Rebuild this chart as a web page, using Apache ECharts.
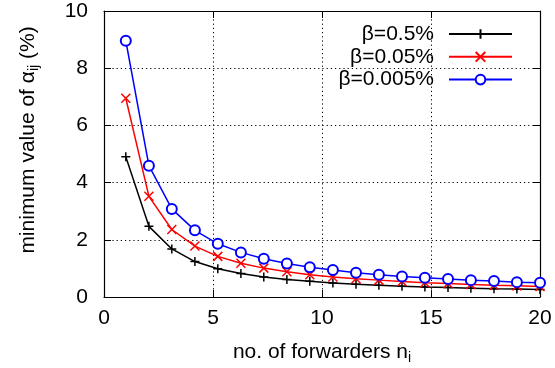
<!DOCTYPE html>
<html><head><meta charset="utf-8">
<script src="https://cdn.jsdelivr.net/npm/echarts@6/dist/echarts.min.js"></script>
<style>html,body{margin:0;padding:0;background:#fff}#c{width:555px;height:368px}</style>
</head><body><div id="c"></div>
<script>
var xs = [1, 2.06, 3.11, 4.17, 5.22, 6.28, 7.33, 8.39, 9.44, 10.5, 11.56, 12.61, 13.67, 14.72, 15.78, 16.83, 17.89, 18.94, 20];
var beta05 = [4.9, 2.47, 1.68, 1.24, 0.99, 0.82, 0.70, 0.61, 0.55, 0.49, 0.45, 0.41, 0.38, 0.35, 0.33, 0.31, 0.29, 0.28, 0.26];
var beta005 = [6.95, 3.52, 2.36, 1.78, 1.42, 1.18, 1.01, 0.88, 0.78, 0.70, 0.64, 0.59, 0.54, 0.50, 0.47, 0.44, 0.41, 0.39, 0.37];
var beta0005 = [8.96, 4.59, 3.08, 2.33, 1.86, 1.56, 1.34, 1.17, 1.04, 0.94, 0.85, 0.78, 0.72, 0.67, 0.63, 0.59, 0.56, 0.52, 0.50];
var names = ['β=0.5%', 'β=0.05%', 'β=0.005%'];
var xTicks = [0, 5, 10, 15, 20];
var yTicks = [0, 2, 4, 6, 8, 10];

function pairs(ys){ return xs.map(function(x,i){ return [x, ys[i]]; }); }
var FONT = 'Liberation Sans, Arial, Helvetica, sans-serif';
var FS = 21;
var chart = echarts.init(document.getElementById('c'), null, {renderer:'canvas'});
function axisBase(pos, isX, show){
  return {
    type:'value', position:pos,
    min: isX ? xTicks[0] : yTicks[0],
    max: isX ? xTicks[xTicks.length-1] : yTicks[yTicks.length-1],
    interval: isX ? 5 : 2,
    axisLine:{show:true, onZero:false, lineStyle:{color:'#000', width:1.2}},
    axisTick:{show:true, inside:true, length:7, lineStyle:{color:'#000', width:1}},
    axisLabel:{show:show, color:'#000', fontFamily:FONT, fontSize:FS, margin: isX ? 11 : 16},
    splitLine:{show:show, lineStyle:{color:'#000', type:[1.2,3], width:1}}
  };
}
var mk = function(name, data, color, symbol, size){
  var s = {
    name:name, type:'line', data:pairs(data), xAxisIndex:0, yAxisIndex:0,
    symbol:symbol, symbolSize:size, showAllSymbol:true,
    lineStyle:{color:color, width:1.5},
    itemStyle:{color:color, borderWidth: symbol==='emptyCircle' ? 1.2 : 1.5},
    emphasis:{disabled:true}, animation:false
  };
  if (symbol !== 'emptyCircle') { s.itemStyle.borderColor = color; }
  return s;
};
chart.setOption({
  animation:false,
  grid:{left:104, right:15, top:11, bottom:71, containLabel:false},
  xAxis:[axisBase('bottom', true, true), axisBase('top', true, false)],
  yAxis:[axisBase('left', false, true), axisBase('right', false, false)],
  legend:{
    orient:'vertical', align:'right', right:42, top:23, padding:0,
    itemWidth:63, itemHeight:12, itemGap:0.8,
    textStyle:{fontFamily:FONT, fontSize:FS, color:'#000', lineHeight:22, padding:[0,10,0,0]},
    data:names
  },
  series:[
    mk(names[0], beta05, '#000000', 'path://M5,0L5,10M0,5L10,5', 9),
    mk(names[1], beta005, '#ff0000', 'path://M0,0L10,10M10,0L0,10', 9),
    mk(names[2], beta0005, '#0000ff', 'emptyCircle', 10)
  ],
  graphic:[
    {type:'text', x:28, y:140, rotation:Math.PI/2, style:{
      text:'{a|minimum value of α}{s|ij}{a| (%)}', align:'center', verticalAlign:'middle',
      rich:{a:{fontFamily:FONT, fontSize:FS, fill:'#000'}, s:{fontFamily:FONT, fontSize:14, fill:'#000', padding:[12,0,0,0]}}
    }},
    {type:'text', x:322, y:352, style:{
      text:'{a|no. of forwarders n}{s|i}', align:'center', verticalAlign:'middle',
      rich:{a:{fontFamily:FONT, fontSize:FS, fill:'#000'}, s:{fontFamily:FONT, fontSize:14, fill:'#000', padding:[12,0,0,0]}}
    }}
  ]
});
</script></body></html>
